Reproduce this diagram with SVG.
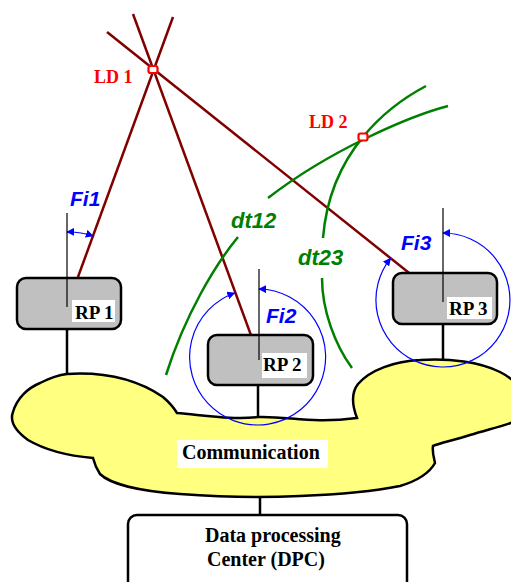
<svg xmlns="http://www.w3.org/2000/svg" width="511" height="582" viewBox="0 0 511 582">
<style>
.box{fill:#c0c0c0;stroke:#000;stroke-width:2.5}
.lbl{fill:#fff}
.rp{font-family:"Liberation Serif",serif;font-weight:bold;font-size:19px;fill:#000}
.ld{font-family:"Liberation Serif",serif;font-weight:bold;font-size:18px;fill:#ff0000}
.fi{font-family:"Liberation Sans",Arial,sans-serif;font-weight:bold;font-style:italic;font-size:21px;fill:#0000ff}
.dt{font-family:"Liberation Sans",Arial,sans-serif;font-weight:bold;font-style:italic;font-size:22px;fill:#008000}
.ray{stroke:#800000;stroke-width:2.5;fill:none}
.hyp{stroke:#008000;stroke-width:2.5;fill:none}
.ang{stroke:#0000ff;stroke-width:1.2;fill:none;marker-start:url(#ah);marker-end:url(#ah)}
.axis{stroke:#000;stroke-width:1.2}
.link{stroke:#000;stroke-width:2.5}
.ldm{fill:#fff;stroke:#ff0000;stroke-width:2.2}
.big{font-family:"Liberation Serif",serif;font-weight:bold;font-size:20px;fill:#000}
</style>
<defs>
<marker id="ah" viewBox="0 0 10 10" refX="9" refY="5" markerWidth="8" markerHeight="8" markerUnits="userSpaceOnUse" orient="auto-start-reverse">
<path d="M0,0 L10,5 L0,10 z" fill="#0000ff"/>
</marker>
</defs>
<rect width="511" height="582" fill="#fff"/>

<g id="cloud">
<path d="M67,374 C100,372 135,378 163,397 C170,403 174,408 177,413 C210,416 235,420 258,417 C290,416 310,424 357,418 C352,405 351,393 358,384 C370,370 395,361 420,360 C450,358 480,362 500,372 C520,382 530,400 525,415 C520,422 500,426 470,435 C455,440 440,443 433,446 C432,452 434,458 435,463 C430,472 420,480 400,486 C380,490 350,494 300,496 C260,498 220,497 180,494 C140,491 110,484 100,474 C96,468 94,462 93,458 C70,456 45,450 28,440 C14,430 10,420 13,412 C17,398 28,388 40,383 C50,378 58,375 67,374 Z" fill="#ffff80" stroke="#000" stroke-width="2.5"/>
<rect x="177" y="440" width="151" height="28" fill="#fff"/>
<text class="big" x="182" y="459">Communication</text>
</g>

<g id="connectors">
<line class="link" x1="67" y1="329" x2="67" y2="375"/>
<line class="link" x1="258" y1="385" x2="258" y2="416"/>
<line class="link" x1="443" y1="324" x2="443" y2="360"/>
<line class="link" x1="260" y1="497" x2="260" y2="515"/>
<line class="ray" x1="133" y1="14" x2="259" y2="357"/>
<line class="ray" x1="173" y1="17" x2="67" y2="307"/>
<line class="ray" x1="107" y1="32" x2="443" y2="300"/>
<path class="hyp" d="M448,106 C410,116 330,150 268,198"/>
<path class="hyp" d="M238,237 C215,265 185,315 166,375"/>
<path class="hyp" d="M426,86 C390,105 330,150 323,238"/>
<path class="hyp" d="M322,278 C322,310 335,345 352,368"/>
<path class="ang" d="M67,232 A75,75 0 0 1 93,236"/>
<path class="ang" d="M234.6,293 A68,68 0 1 0 259,289"/>
<path class="ang" d="M390.5,258.3 A67,67 0 1 0 443,233"/>
</g>

<g id="rp1">
<rect class="box" x="17" y="278" width="104" height="51" rx="9"/>
<rect class="lbl" x="72" y="300" width="43" height="22"/>
<line class="axis" x1="67" y1="213" x2="67" y2="307"/>
<text class="rp" x="75" y="319">RP 1</text>
</g>
<g id="rp2">
<rect class="box" x="208" y="335" width="105" height="50" rx="9"/>
<rect class="lbl" x="262" y="353" width="45" height="25"/>
<line class="axis" x1="259" y1="269" x2="259" y2="360"/>
<text class="rp" x="263" y="371">RP 2</text>
</g>
<g id="rp3">
<rect class="box" x="393" y="273" width="104" height="51" rx="9"/>
<rect class="lbl" x="447" y="297" width="45" height="22"/>
<line class="axis" x1="443" y1="208" x2="443" y2="302"/>
<text class="rp" x="449" y="315">RP 3</text>
</g>

<g id="ld1">
<rect class="ldm" x="148.5" y="66" width="9" height="7" rx="2"/>
<text class="ld" x="94" y="83">LD 1</text>
</g>
<g id="ld2">
<rect class="ldm" x="358.5" y="133.5" width="9" height="7" rx="2"/>
<text class="ld" x="309" y="128">LD 2</text>
</g>

<g id="labels">
<text class="fi" x="70" y="206">Fi1</text>
<text class="fi" x="266" y="323">Fi2</text>
<text class="fi" x="401" y="250">Fi3</text>
<text class="dt" x="231" y="228">dt12</text>
<text class="dt" x="298" y="265">dt23</text>
</g>

<g id="dpc">
<rect x="128" y="515" width="279" height="90" rx="9" fill="#fff" stroke="#000" stroke-width="2.5"/>
<text class="big" x="205" y="542">Data processing</text>
<text class="big" x="207" y="566">Center (DPC)</text>
</g>
</svg>
